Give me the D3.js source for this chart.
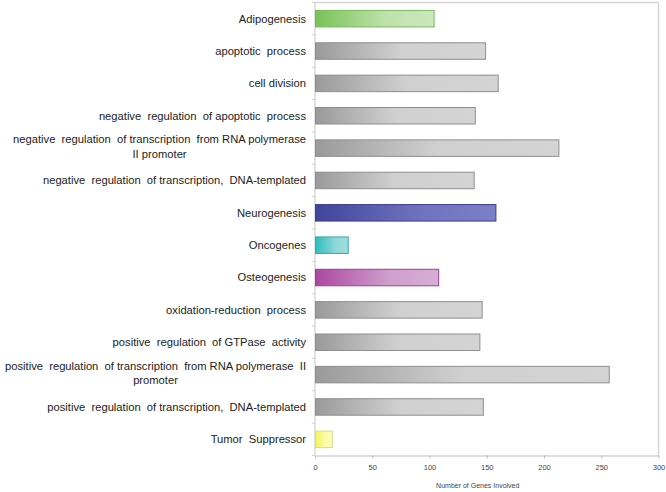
<!DOCTYPE html>
<html><head><meta charset="utf-8">
<script src="https://cdn.jsdelivr.net/npm/d3@7"></script>
<style>
html,body{margin:0;padding:0;background:#fff;}
svg{display:block;}
text{font-family:"Liberation Sans",Arial,sans-serif;}
</style></head>
<body><svg id="chart" width="666" height="492"></svg>
<script>
// ---- data ----
const categories = [
  ["Adipogenesis"],
  ["apoptotic  process"],
  ["cell division"],
  ["negative  regulation  of apoptotic  process"],
  ["negative  regulation  of transcription  from RNA polymerase", "II promoter"],
  ["negative  regulation  of transcription,  DNA-templated"],
  ["Neurogenesis"],
  ["Oncogenes"],
  ["Osteogenesis"],
  ["oxidation-reduction  process"],
  ["positive  regulation  of GTPase  activity"],
  ["positive  regulation  of transcription  from RNA polymerase  II", "promoter"],
  ["positive  regulation  of transcription,  DNA-templated"],
  ["Tumor  Suppressor"]
];
const values = [104, 149, 160, 140, 213, 139, 158, 29, 108, 146, 144, 257, 147, 15];
const colorKeys = ["green","gray","gray","gray","gray","gray","blue","teal","magenta","gray","gray","gray","gray","yellow"];
const xTicks = [0, 50, 100, 150, 200, 250, 300];
const xTitle = "Number of Genes Involved";

// ---- styles ----
const palette = {
  gray:    {a:"#9a9a9a", b:"#d0d0d0", c:"#d4d4d4", s:"#8e8e8e", m:0.5},
  green:   {a:"#79c257", b:"#bfe2ad", c:"#cbe8bd", s:"#78b85a", m:0.6},
  blue:    {a:"#41459b", b:"#7074bf", c:"#7b7fc6", s:"#3b3f8e", m:0.6},
  teal:    {a:"#2dbdbd", b:"#8fd7d7", c:"#9fdddd", s:"#3aa8a8", m:0.6},
  magenta: {a:"#ab479f", b:"#cf9fcd", c:"#d6aed5", s:"#9a3f92", m:0.6},
  yellow:  {a:"#f4f45c", b:"#fbfba6", c:"#fdfdbc", s:"#d9d98a", m:0.6}
};

const svg = d3.select("#chart");
const margin = {left:315, right:7.5, top:2.5, bottom:36.5};
const W = 666, H = 492;
const x = d3.scaleLinear().domain([0,300]).range([margin.left, W - margin.right]);
const y = d3.scaleBand().domain(d3.range(categories.length))
  .range([margin.top, H - margin.bottom]).paddingInner(0.49).paddingOuter(0.245);

// gradients
const defs = svg.append("defs");
Object.entries(palette).forEach(([k,p]) => {
  const g = defs.append("linearGradient").attr("id","g-"+k)
    .attr("x1","0").attr("x2","1").attr("y1","0").attr("y2","0");
  g.append("stop").attr("offset",0).attr("stop-color",p.a);
  g.append("stop").attr("offset",p.m).attr("stop-color",p.b);
  g.append("stop").attr("offset",1).attr("stop-color",p.c);
});

// frame (top & right)
svg.append("line").attr("x1",x(0)).attr("x2",x(300)).attr("y1",margin.top).attr("y2",margin.top)
  .attr("stroke","#d6d6d6").attr("stroke-width",1.5);
svg.append("line").attr("x1",x(300)).attr("x2",x(300)).attr("y1",margin.top).attr("y2",H-margin.bottom)
  .attr("stroke","#d6d6d6").attr("stroke-width",1.5);

// x axis
const xAxis = svg.append("g").attr("transform",`translate(0,${H-margin.bottom})`)
  .call(d3.axisBottom(x).tickValues(xTicks).tickSize(3).tickPadding(6).tickSizeOuter(0));
xAxis.select(".domain").attr("stroke","#bdbdbd").attr("stroke-width",1.2);
xAxis.selectAll(".tick line").attr("stroke","#bdbdbd");
xAxis.selectAll(".tick text").attr("fill","#444").attr("font-size","7.5px")
  .attr("font-family","'Liberation Sans Narrow','Liberation Sans',Arial,sans-serif");

svg.append("text").attr("x", (x(0)+x(300))/2 - 9).attr("y", 488)
  .attr("text-anchor","middle").attr("font-size","7px").attr("fill","#444")
  .attr("font-family","'Liberation Sans Narrow','Liberation Sans',Arial,sans-serif")
  .text(xTitle);

// y axis line with ticks between bands
const yAxis = svg.append("g");
yAxis.append("line").attr("x1",x(0)).attr("x2",x(0)).attr("y1",margin.top).attr("y2",H-margin.bottom)
  .attr("stroke","#cfcfcf").attr("stroke-width",1.2);
const step = y.step();
const bounds = d3.range(categories.length+1).map(i => i===0 ? margin.top : (i===categories.length ? H-margin.bottom : y(i) - (step - y.bandwidth())/2));
yAxis.selectAll("line.t").data(bounds).join("line").attr("class","t")
  .attr("x1",x(0)-3).attr("x2",x(0)).attr("y1",d=>d).attr("y2",d=>d)
  .attr("stroke","#cfcfcf");

// bars
svg.append("g").selectAll("rect").data(values).join("rect")
  .attr("x", x(0)+0.5)
  .attr("y", (d,i) => y(i))
  .attr("width", d => x(d) - x(0) - 0.5)
  .attr("height", y.bandwidth())
  .attr("fill", (d,i) => `url(#g-${colorKeys[i]})`)
  .attr("stroke", (d,i) => palette[colorKeys[i]].s)
  .attr("stroke-width", 1);

// labels
const lbl = svg.append("g").selectAll("text").data(categories).join("text")
  .attr("font-size","11.2px").attr("fill","#222").attr("xml:space","preserve")
  .style("white-space","pre");
lbl.each(function(lines,i){
  const t = d3.select(this);
  const cy = y(i) + y.bandwidth()/2;
  if (lines.length === 1) {
    t.attr("text-anchor","end").attr("x",306).attr("y",cy).attr("dy","0.35em").text(lines[0]);
  } else {
    t.attr("text-anchor","end");
    const t1 = t.append("tspan").attr("x",306).attr("y",cy - 9).attr("dy","0.35em").text(lines[0]);
    const w = t1.node().getComputedTextLength();
    t.append("tspan").attr("x",306 - w/2).attr("y",cy + 5.5).attr("dy","0.35em")
      .attr("text-anchor","middle").text(lines[1]);
  }
});
</script></body></html>
